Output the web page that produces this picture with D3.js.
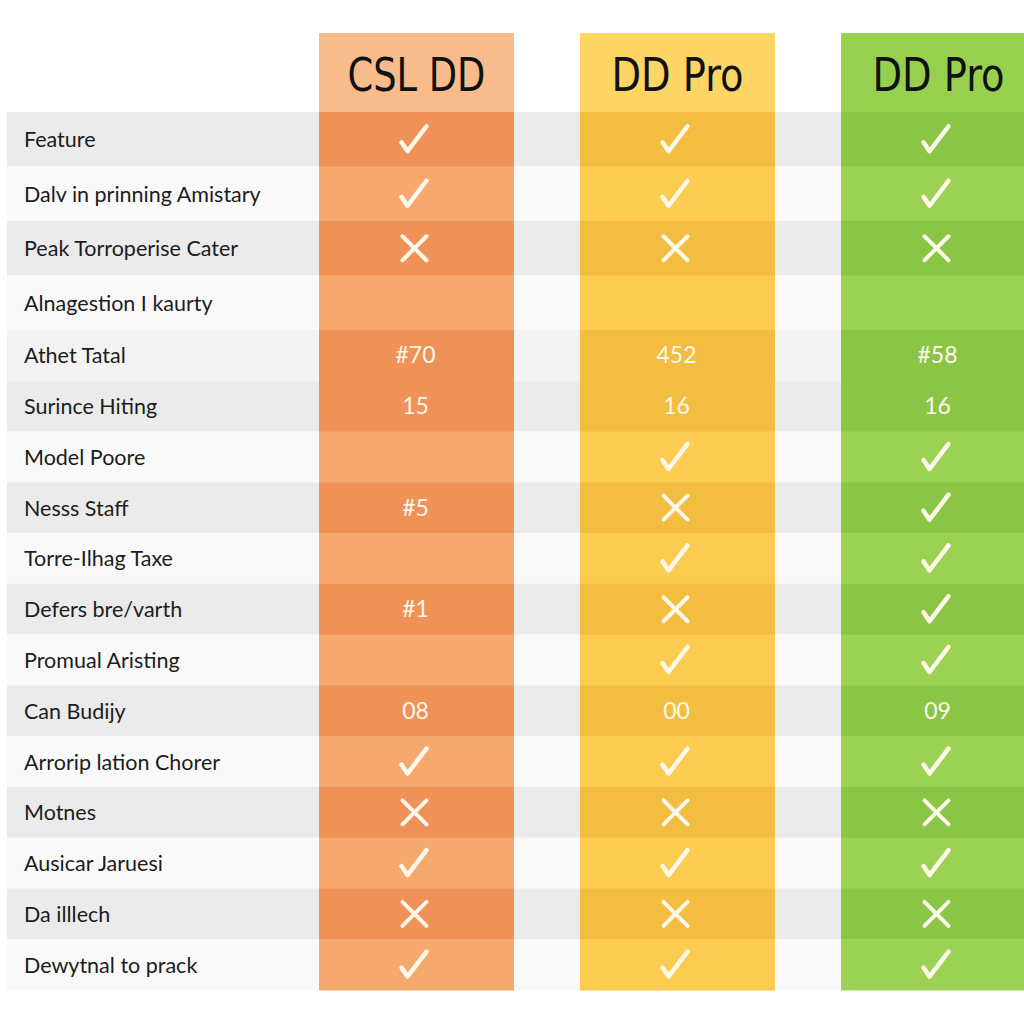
<!DOCTYPE html>
<html>
<head>
<meta charset="utf-8">
<script src="https://cdn.jsdelivr.net/npm/d3@7"></script>
<style>
  html, body { margin: 0; padding: 0; background: #ffffff; }
  svg { display: block; }
</style>
</head>
<body>
<svg id="chart" width="1024" height="1024"></svg>
<script>
// ---- Data ----
const plans = ["CSL DD", "DD Pro", "DD Pro "];
const features = [
  "Feature",
  "Dalv in prinning Amistary",
  "Peak Torroperise Cater",
  "Alnagestion I kaurty",
  "Athet Tatal",
  "Surince Hiting",
  "Model Poore",
  "Nesss Staff",
  "Torre-Ilhag Taxe",
  "Defers bre/varth",
  "Promual Aristing",
  "Can Budijy",
  "Arrorip lation Chorer",
  "Motnes",
  "Ausicar Jaruesi",
  "Da illlech",
  "Dewytnal to prack"
];
// "yes" = check, "no" = cross, "" = empty, other = text value
const cslDD = ["yes","yes","no","","#70","15","","#5","","#1","","08","yes","no","yes","no","yes"];
const ddPro = ["yes","yes","no","","452","16","yes","no","yes","no","yes","00","yes","no","yes","no","yes"];
const ddPro2 = ["yes","yes","no","","#58","16","yes","yes","yes","yes","yes","09","yes","no","yes","no","yes"];
const planValues = [cslDD, ddPro, ddPro2];

// ---- Styles ----
const headerColors = ["#f8bb8b", "#fcd565", "#97cf4f"];
const darkColors   = ["#f09157", "#f3bd42", "#8bc546"];
const lightColors  = ["#f5a96e", "#fbcc50", "#9bd254"];
const markColor = "#fdf8ea";

const svg = d3.select("#chart");

// ---- Scales ----
const x = d3.scaleBand().domain(plans).range([319, 1036]).paddingInner(0.253).paddingOuter(0);
const rowIdx = d3.scaleLinear().domain([0, 4, features.length]).range([112, 330, 990]);
const rowTop = i => rowIdx(i);
const rowH = i => rowIdx(i + 1) - rowIdx(i);
// shading pattern of the table (two consecutive shaded rows at index 4 and 5)
const shaded = i => (i <= 4 ? i % 2 === 0 : i % 2 === 1);

// ---- Row stripes ----
svg.append("g").selectAll("rect")
  .data(features)
  .join("rect")
  .attr("x", 7)
  .attr("y", (d, i) => rowTop(i))
  .attr("width", 1024 - 7)
  .attr("height", (d, i) => rowH(i))
  .attr("fill", (d, i) => shaded(i) ? (i === 4 ? "#f3f3f3" : "#ebebeb") : "#f9f9f9");

// ---- Headers ----
const hdr = svg.append("g");
hdr.selectAll("rect")
  .data(plans)
  .join("rect")
  .attr("x", d => x(d))
  .attr("y", 33)
  .attr("width", x.bandwidth())
  .attr("height", 112 - 33)
  .attr("fill", (d, i) => headerColors[i]);
hdr.selectAll("text")
  .data(plans)
  .join("text")
  .attr("x", d => x(d) + x.bandwidth() / 2)
  .attr("y", 91)
  .attr("text-anchor", "middle")
  .attr("font-family", "'Liberation Sans Narrow', 'DejaVu Sans Condensed', sans-serif")
  .attr("font-size", 46)
  .attr("fill", "#111")
  .attr("textLength", (d, i) => i === 0 ? 138 : 132)
  .attr("lengthAdjust", "spacingAndGlyphs")
  .text(d => d.trim());

// ---- Column cells ----
plans.forEach((p, c) => {
  const g = svg.append("g");
  g.selectAll("rect")
    .data(planValues[c])
    .join("rect")
    .attr("x", x(p))
    .attr("y", (d, i) => rowTop(i))
    .attr("width", x.bandwidth())
    .attr("height", (d, i) => rowH(i) + 0.5)
    .attr("fill", (d, i) => shaded(i) ? darkColors[c] : lightColors[c]);

  const cx = x(p) + x.bandwidth() / 2 - 2;
  planValues[c].forEach((v, i) => {
    const cy = rowTop(i) + rowH(i) / 2;
    if (v === "yes") {
      g.append("path")
        .attr("d", `M${cx - 13},${cy + 3} L${cx - 7},${cy + 12} L${cx + 12},${cy - 13}`)
        .attr("fill", "none")
        .attr("stroke", markColor)
        .attr("stroke-width", 4.5)
        .attr("stroke-linecap", "round")
        .attr("stroke-linejoin", "round");
    } else if (v === "no") {
      g.append("path")
        .attr("d", `M${cx - 12},${cy - 12} L${cx + 12},${cy + 12} M${cx + 12},${cy - 12} L${cx - 12},${cy + 12}`)
        .attr("fill", "none")
        .attr("stroke", markColor)
        .attr("stroke-width", 4)
        .attr("stroke-linecap", "round");
    } else if (v !== "") {
      g.append("text")
        .attr("x", cx + 1)
        .attr("y", cy + 8)
        .attr("text-anchor", "middle")
        .attr("font-family", "Lato, 'Open Sans', sans-serif")
        .attr("font-size", 23)
        .attr("fill", markColor)
        .text(v);
    }
  });
});

// ---- Feature labels ----
svg.append("g").selectAll("text")
  .data(features)
  .join("text")
  .attr("x", 24)
  .attr("y", (d, i) => rowTop(i) + rowH(i) / 2 + 8)
  .attr("font-family", "Lato, 'Open Sans', sans-serif")
  .attr("font-size", 21.5)
  .attr("fill", "#1c1c1c")
  .text(d => d);
</script>
</body>
</html>
